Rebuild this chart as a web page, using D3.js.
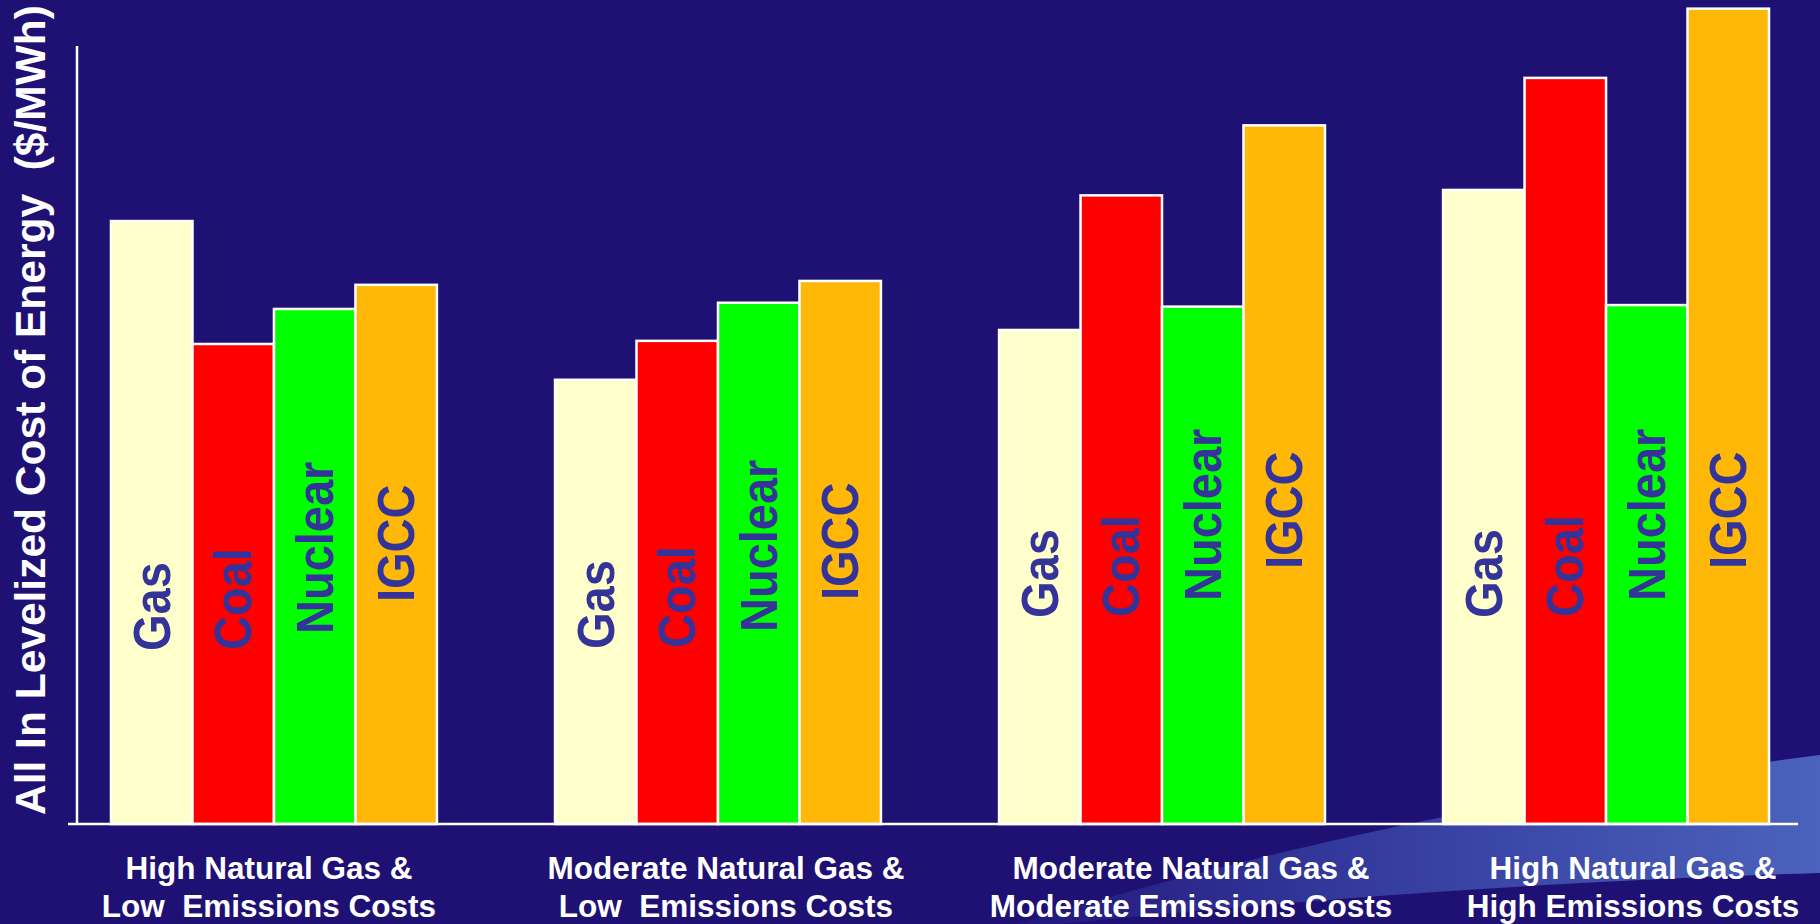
<!DOCTYPE html>
<html>
<head>
<meta charset="utf-8">
<script src="https://cdn.jsdelivr.net/npm/d3@7/dist/d3.min.js"></script>
<style>
  body { margin: 0; background: #1e1173; }
  svg { display: block; font-family: "Liberation Sans", Arial, sans-serif; font-weight: bold; }
</style>
</head>
<body>
<svg id="chart" width="1820" height="924"></svg>
<script>
// scenarios (two-line captions under each group)
const scenarios = [
  ["High Natural Gas &", "Low  Emissions Costs"],
  ["Moderate Natural Gas &", "Low  Emissions Costs"],
  ["Moderate Natural Gas &", "Moderate Emissions Costs"],
  ["High Natural Gas &", "High Emissions Costs"]
];
const technologies = ["Gas", "Coal", "Nuclear", "IGCC"];

// relative cost, no scale printed on the chart
const gasCost     = [77.5, 57.1, 63.5, 81.5];
const coalCost    = [61.7, 62.1, 80.8, 95.9];
const nuclearCost = [66.2, 67.0, 66.5, 66.7];
const igccCost    = [69.3, 69.8, 89.8, 104.8];

const yTitle = "All In Levelized Cost of Energy  ($/MWh)";

const colors = { Gas: "#ffffcc", Coal: "#ff0000", Nuclear: "#00ff00", IGCC: "#ffb808" };
const costs = { Gas: gasCost, Coal: coalCost, Nuclear: nuclearCost, IGCC: igccCost };

// hand-placed label tweaks, like the text boxes in the original slide
const labelBase = { Gas: 651, Coal: 650, Nuclear: 634, IGCC: 602 };
const groupLift = [0, 2, 33, 33];
const captionShift = [-5, 8, 29, 27];

const svg = d3.select("#chart");
const bg = "#1e1173";

const baseY = 824;
const x = d3.scaleBand().domain(d3.range(scenarios.length)).range([111, 1769]).paddingInner(0.266).paddingOuter(0);
const xInner = d3.scaleBand().domain(technologies).range([0, x.bandwidth()]);
const y = d3.scaleLinear().domain([0, 100]).range([baseY, 46]);

// background swoosh
const defs = svg.append("defs");
const grad = defs.append("linearGradient")
  .attr("id", "swoosh")
  .attr("gradientUnits", "userSpaceOnUse")
  .attr("x1", 950).attr("y1", 0).attr("x2", 1820).attr("y2", 0);
grad.append("stop").attr("offset", "0%").attr("stop-color", bg);
grad.append("stop").attr("offset", "45%").attr("stop-color", "#33399c");
grad.append("stop").attr("offset", "100%").attr("stop-color", "#4b63bc");

svg.append("path")
  .attr("d", "M1017,924 Q1400,808 1820,755 L1820,873 Q1450,884 1060,924 Z")
  .attr("fill", "url(#swoosh)");

// bars
const rows = [];
scenarios.forEach((s, i) => {
  technologies.forEach(t => rows.push({ group: i, tech: t, value: costs[t][i] }));
});

const g = svg.append("g");

g.selectAll("rect.bar")
  .data(rows)
  .enter().append("rect")
  .attr("class", "bar")
  .attr("x", d => x(d.group) + xInner(d.tech))
  .attr("y", d => y(d.value))
  .attr("width", xInner.bandwidth())
  .attr("height", d => baseY - y(d.value))
  .attr("fill", d => colors[d.tech])
  .attr("stroke", "#ffffff")
  .attr("stroke-width", 2.5);

// vertical labels in the bars (glyphs a bit taller than Arial in the slide)
g.selectAll("text.tech")
  .data(rows)
  .enter().append("text")
  .attr("class", "tech")
  .attr("transform", d => {
    const cx = x(d.group) + xInner(d.tech) + xInner.bandwidth() / 2 + 18;
    const sy = labelBase[d.tech] - groupLift[d.group];
    return `translate(${cx},${sy}) rotate(-90) scale(1,1.1)`;
  })
  .attr("fill", "#333399")
  .style("font-size", "47px")
  .text(d => d.tech);

// axes (plain lines, no ticks)
svg.append("line")
  .attr("x1", 77).attr("x2", 77)
  .attr("y1", y(100)).attr("y2", baseY)
  .attr("stroke", "#ffffff").attr("stroke-width", 2.5);
svg.append("line")
  .attr("x1", 68).attr("x2", 1798)
  .attr("y1", baseY).attr("y2", baseY)
  .attr("stroke", "#ffffff").attr("stroke-width", 2.5);

// y title
svg.append("text")
  .attr("transform", `translate(45,815) rotate(-90)`)
  .attr("fill", "#ffffff")
  .style("font-size", "42.5px")
  .style("white-space", "pre")
  .text(yTitle);

// group captions
const cap = svg.selectAll("text.caption")
  .data(scenarios)
  .enter().append("text")
  .attr("class", "caption")
  .attr("text-anchor", "middle")
  .attr("fill", "#ffffff")
  .style("font-size", "31.5px")
  .style("white-space", "pre");

cap.each(function(lines, i) {
  const cx = x(i) + x.bandwidth() / 2 + captionShift[i];
  d3.select(this).selectAll("tspan")
    .data(lines)
    .enter().append("tspan")
    .attr("x", cx)
    .attr("y", (d, j) => 879 + j * 38)
    .text(d => d);
});
</script>
</body>
</html>
